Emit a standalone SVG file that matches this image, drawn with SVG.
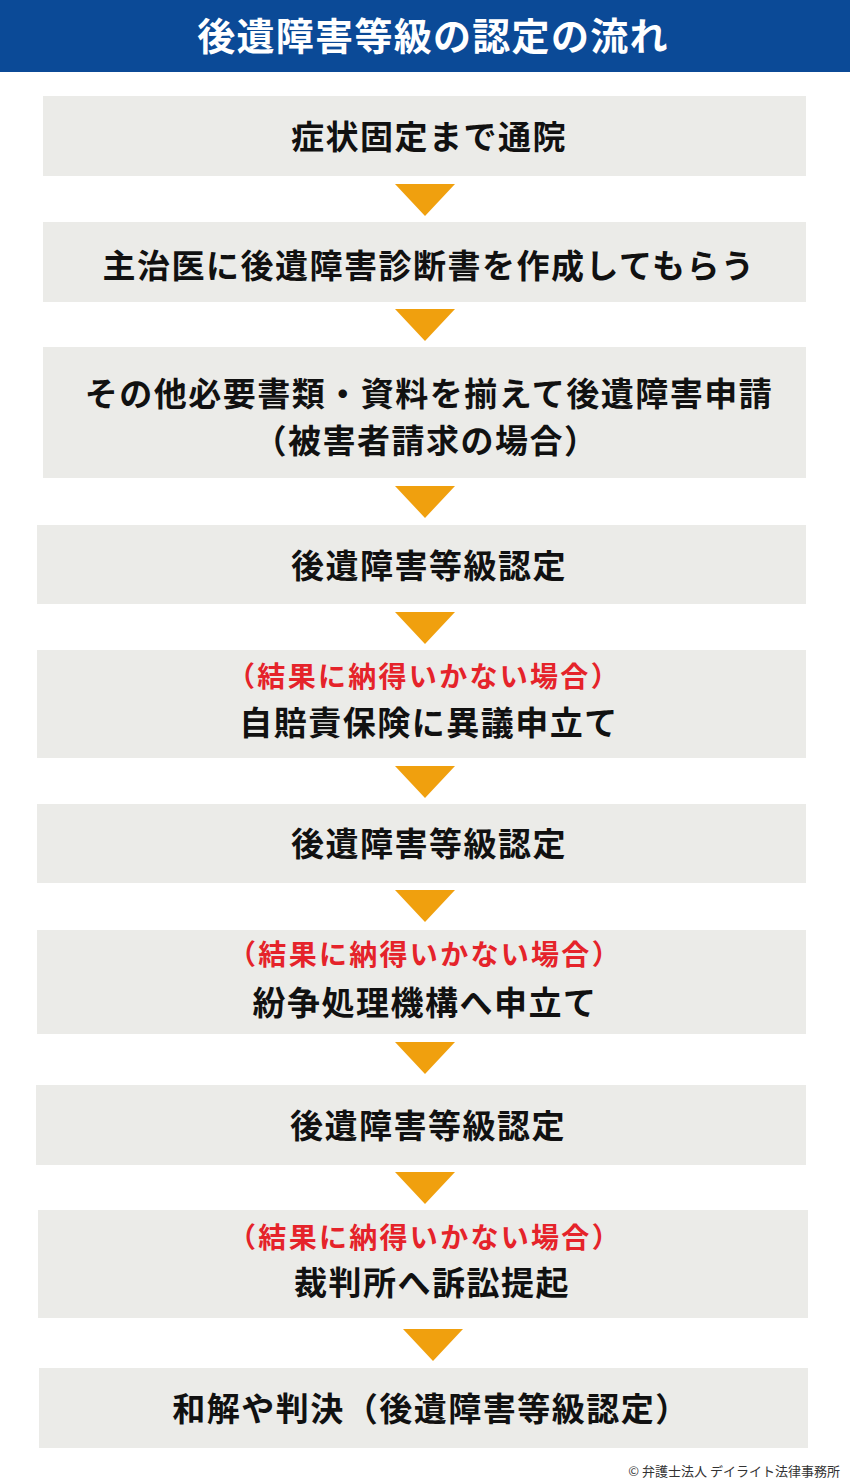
<svg xmlns="http://www.w3.org/2000/svg" width="850" height="1482" viewBox="0 0 850 1482">
<style>
.box{fill:#ebebe8}
.t{font-family:"Noto Sans CJK JP","Noto Sans CJK SC",sans-serif;font-weight:700;font-size:33px;letter-spacing:1.5px;fill:#111;text-anchor:middle}
.r{font-family:"Noto Sans CJK JP","Noto Sans CJK SC",sans-serif;font-weight:700;font-size:28px;letter-spacing:2.3px;fill:#e5232a;text-anchor:middle}
.arr{fill:#f0a00e}
</style>
<rect width="850" height="1482" fill="#ffffff"/>
<g id="header">
<rect x="0" y="0" width="850" height="72" fill="#0b4a97"/>
<text x="433" y="50" font-family="'Noto Sans CJK JP','Noto Sans CJK SC',sans-serif" font-weight="700" font-size="38" letter-spacing="1.3" fill="#ffffff" text-anchor="middle">後遺障害等級の認定の流れ</text>
</g>
<g id="connectors">
<polygon class="arr" points="395,184 455,184 425,216"/>
<polygon class="arr" points="395,309 455,309 425,341"/>
<polygon class="arr" points="395,486 455,486 425,518"/>
<polygon class="arr" points="395,612 455,612 425,644"/>
<polygon class="arr" points="395,766 455,766 425,798"/>
<polygon class="arr" points="395,890 455,890 425,922"/>
<polygon class="arr" points="395,1042 455,1042 425,1074"/>
<polygon class="arr" points="395,1172 455,1172 425,1204"/>
<polygon class="arr" points="403,1329 463,1329 433,1361"/>
</g>
<g id="n1"><rect class="box" x="43" y="96" width="763" height="80"/><text class="t" x="429" y="149">症状固定まで通院</text></g>
<g id="n2"><rect class="box" x="43" y="222" width="763" height="80"/><text class="t" x="429" y="278">主治医に後遺障害診断書を作成してもらう</text></g>
<g id="n3"><rect class="box" x="43" y="347" width="763" height="131"/><text class="t" x="429" y="406">その他必要書類・資料を揃えて後遺障害申請</text><text class="t" x="426" y="453">（被害者請求の場合）</text></g>
<g id="n4"><rect class="box" x="37" y="525" width="769" height="79"/><text class="t" x="429" y="578">後遺障害等級認定</text></g>
<g id="n5"><rect class="box" x="37" y="650" width="769" height="108"/><text class="r" x="424" y="687">（結果に納得いかない場合）</text><text class="t" x="429" y="735">自賠責保険に異議申立て</text></g>
<g id="n6"><rect class="box" x="37" y="804" width="769" height="79"/><text class="t" x="429" y="856">後遺障害等級認定</text></g>
<g id="n7"><rect class="box" x="37" y="930" width="769" height="104"/><text class="r" x="425" y="965">（結果に納得いかない場合）</text><text class="t" x="425" y="1015">紛争処理機構へ申立て</text></g>
<g id="n8"><rect class="box" x="36" y="1085" width="770" height="80"/><text class="t" x="428" y="1138">後遺障害等級認定</text></g>
<g id="n9"><rect class="box" x="38" y="1210" width="770" height="108"/><text class="r" x="425" y="1248">（結果に納得いかない場合）</text><text class="t" x="432" y="1295">裁判所へ訴訟提起</text></g>
<g id="n10"><rect class="box" x="39" y="1368" width="769" height="80"/><text class="t" x="431" y="1421">和解や判決（後遺障害等級認定）</text></g>
<text x="840" y="1476" font-family="'Noto Sans CJK JP','Noto Sans CJK SC',sans-serif" font-size="13" fill="#333" text-anchor="end">© 弁護士法人 デイライト法律事務所</text>
</svg>
